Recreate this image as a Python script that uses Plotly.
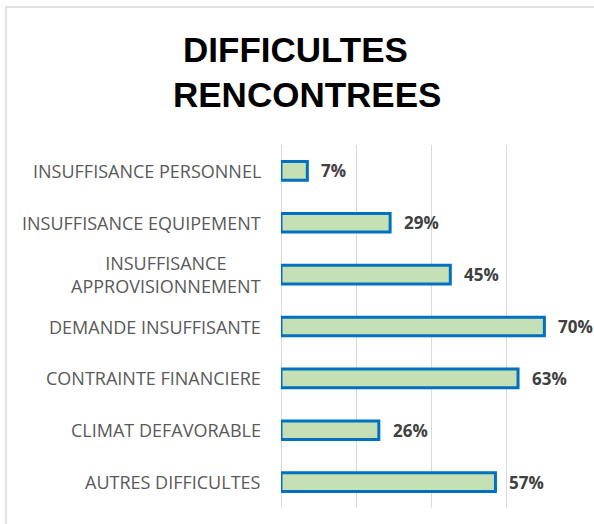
import plotly.graph_objects as go

categories = [
    "INSUFFISANCE PERSONNEL",
    "INSUFFISANCE EQUIPEMENT",
    "INSUFFISANCE<br>APPROVISIONNEMENT",
    "DEMANDE INSUFFISANTE",
    "CONTRAINTE FINANCIERE",
    "CLIMAT DEFAVORABLE",
    "AUTRES DIFFICULTES",
]
values = [7, 29, 45, 70, 63, 26, 57]
value_labels = ["7%", "29%", "45%", "70%", "63%", "26%", "57%"]
title_lines = ["DIFFICULTES", "RENCONTREES"]

W, H = 594, 524
L, R, T, B = 281, 12, 145, 16
pw, ph = W - L - R, H - T - B

def px_to_paper_x(px):
    return (px - L) / pw

def px_to_paper_y(py):
    return (H - B - py) / ph

fig = go.Figure()
fig.add_trace(go.Bar(
    x=values,
    y=list(range(len(categories))),
    orientation="h",
    width=0.36,
    marker=dict(color="#C5E0B4", line=dict(color="#0070C0", width=3)),
    hoverinfo="skip",
))

annotations = []
for i, (c, v, lab) in enumerate(zip(categories, values, value_labels)):
    annotations.append(dict(
        x=0, xref="paper", y=i, yref="y", xanchor="right", yanchor="middle",
        xshift=-18, text=c, showarrow=False, align="center",
        font=dict(family="Open Sans", size=18, color="#595959"),
    ))
    annotations.append(dict(
        x=v, xref="x", y=i, yref="y", xanchor="left", yanchor="middle",
        xshift=12, text=lab, showarrow=False,
        font=dict(family="Open Sans", size=17, color="#404040", weight="bold"),
    ))

title_centers = [(295, 49), (307, 95)]
for txt, (cx, cy) in zip(title_lines, title_centers):
    annotations.append(dict(
        x=px_to_paper_x(cx), xref="paper", y=px_to_paper_y(cy), yref="paper",
        xanchor="center", yanchor="middle", text=txt, showarrow=False,
        font=dict(family="Liberation Sans", size=35, color="black", weight="bold"),
    ))

fig.update_layout(
    width=W, height=H,
    margin=dict(l=L, r=R, t=T, b=B, pad=0),
    paper_bgcolor="white", plot_bgcolor="white",
    showlegend=False,
    xaxis=dict(range=[0, 80], dtick=20, tick0=0, showticklabels=False,
               showgrid=True, gridcolor="#D9D9D9", gridwidth=1,
               zeroline=True, zerolinecolor="#D9D9D9", zerolinewidth=1,
               showline=False, fixedrange=True),
    yaxis=dict(range=[len(categories) - 0.5, -0.5], showticklabels=False,
               showgrid=False, zeroline=False, showline=False, fixedrange=True),
    annotations=annotations,
    shapes=[dict(
        type="rect", xref="paper", yref="paper",
        x0=px_to_paper_x(6), x1=px_to_paper_x(610),
        y0=px_to_paper_y(540), y1=px_to_paper_y(7),
        line=dict(color="#D9D9D9", width=1.5), fillcolor="rgba(0,0,0,0)",
        layer="below",
    )],
)

fig.write_html(
    "out.html",
    config={"displayModeBar": False},
    post_script="document.body.style.margin='0';document.body.style.overflow='hidden';",
)
